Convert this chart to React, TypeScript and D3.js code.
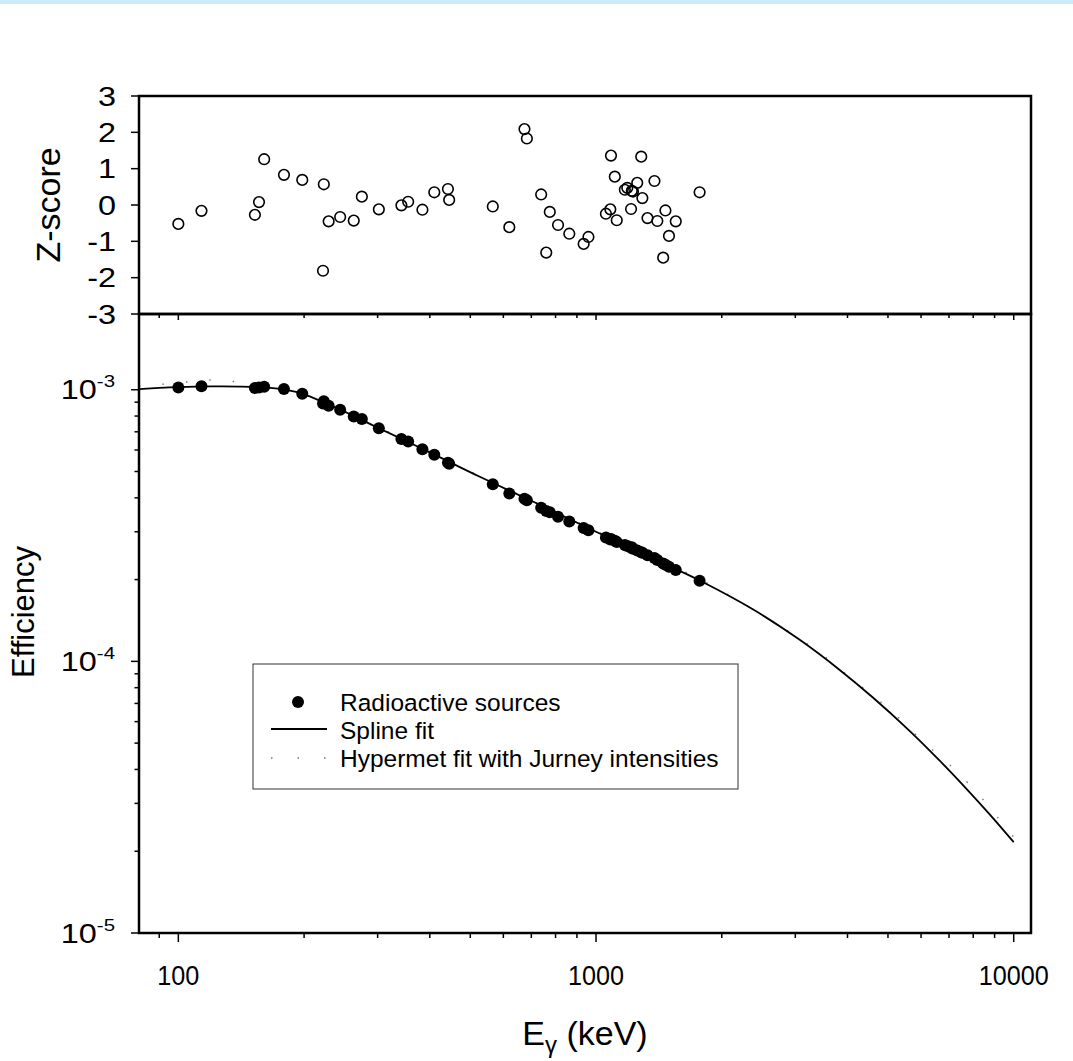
import React from "react";
import * as d3 from "d3";

// ---------- data ----------
const energies = [100, 113.6, 152.5, 156, 160.5, 179, 198, 223, 222, 229, 244, 263, 275, 302, 342, 355, 384, 410, 442, 445, 566, 620, 674, 683, 739, 760, 775, 811, 863, 934, 959, 1056, 1082, 1086, 1109, 1121, 1172, 1188, 1213, 1226, 1218, 1255, 1291, 1283, 1328, 1380, 1402, 1448, 1466, 1495, 1552, 1770];
const zScores = [-0.52, -0.16, -0.27, 0.08, 1.26, 0.83, 0.69, 0.57, -1.81, -0.45, -0.33, -0.43, 0.23, -0.12, -0.01, 0.09, -0.13, 0.35, 0.44, 0.14, -0.04, -0.61, 2.09, 1.83, 0.29, -1.31, -0.19, -0.55, -0.79, -1.07, -0.88, -0.24, -0.12, 1.36, 0.78, -0.42, 0.42, 0.47, -0.11, 0.37, 0.39, 0.61, 0.19, 1.33, -0.36, 0.66, -0.44, -1.45, -0.15, -0.85, -0.45, 0.35];
const efficiencies = [1.02e-3, 1.03e-3, 1.015e-3, 1.02e-3, 1.025e-3, 1.006e-3, 0.967e-3, 0.906e-3, 0.89e-3, 0.873e-3, 0.844e-3, 0.797e-3, 0.78e-3, 0.722e-3, 0.658e-3, 0.645e-3, 0.604e-3, 0.576e-3, 0.539e-3, 0.534e-3, 0.449e-3, 0.415e-3, 0.397e-3, 0.392e-3, 0.368e-3, 0.358e-3, 0.354e-3, 0.341e-3, 0.327e-3, 0.31e-3, 0.304e-3, 0.286e-3, 0.281e-3, 0.282e-3, 0.278e-3, 0.275e-3, 0.268e-3, 0.266e-3, 0.262e-3, 0.26e-3, 0.263e-3, 0.256e-3, 0.251e-3, 0.252e-3, 0.246e-3, 0.24e-3, 0.236e-3, 0.229e-3, 0.227e-3, 0.223e-3, 0.217e-3, 0.198e-3];

const splineE = [80.5, 90, 100, 120, 140, 160, 180, 200, 250, 300, 400, 527, 700, 1000, 1500, 1800, 2379, 3074, 3832, 4601, 5632, 6649, 7687, 8749, 10000];
const splineEff = [1.005e-3, 1.015e-3, 1.022e-3, 1.028e-3, 1.027e-3, 1.02e-3, 1.0e-3, 0.962e-3, 0.83e-3, 0.725e-3, 0.588e-3, 0.478e-3, 0.39e-3, 0.3e-3, 0.224e-3, 0.196e-3, 0.1552e-3, 0.12e-3, 0.093e-3, 0.0736e-3, 0.0555e-3, 0.0431e-3, 0.0341e-3, 0.0274e-3, 0.0216e-3];

const hyperE = [80.5, 100, 116, 134, 160, 207, 300, 500, 1000, 1800, 2690, 3420, 4206, 5109, 6066, 7243, 8520, 9883, 10000];
const hyperEff = [1.03e-3, 1.06e-3, 1.085e-3, 1.073e-3, 1.05e-3, 0.945e-3, 0.73e-3, 0.5e-3, 0.302e-3, 0.198e-3, 0.138e-3, 0.108e-3, 0.0834e-3, 0.0654e-3, 0.0507e-3, 0.0398e-3, 0.0305e-3, 0.023e-3, 0.0226e-3];

const zTicks = [-3, -2, -1, 0, 1, 2, 3];
const xMajor = [100, 1000, 10000];
const yMajor = [1e-5, 1e-4, 1e-3];
const yMajorExp = ["-5", "-4", "-3"];
const legendLabels = ["Radioactive sources", "Spline fit", "Hypermet fit with Jurney intensities"];

// ---------- layout ----------
const W = 1073, H = 1061;
const L = 139, R = 1031, T1 = 96, B1 = 314, B2 = 933;
const FONT = "'Liberation Sans', Arial, sans-serif";

export default function App() {
  const x = d3.scaleLog().domain([80.5, 11000]).range([L, R]);
  const z = d3.scaleLinear().domain([-3, 3]).range([B1, T1]);
  const y = d3.scaleLog().domain([1e-5, 1.9e-3]).range([B2, B1]);

  const xMinor: number[] = [];
  for (const dec of [10, 100, 1000]) for (let m = 1; m <= 9; m++) {
    const v = dec * m; if (v >= 80.5 && v <= 11000 && !xMajor.includes(v)) xMinor.push(v);
  }
  const yMinor: number[] = [];
  for (const dec of [1e-5, 1e-4, 1e-3]) for (let m = 2; m <= 9; m++) {
    const v = dec * m; if (v <= 1.9e-3) yMinor.push(v);
  }

  const line = d3.line<[number, number]>().x(d => x(d[0])).y(d => y(d[1])).curve(d3.curveCatmullRom.alpha(0.5));
  const splinePath = line(splineE.map((e, i) => [e, splineEff[i]]) as [number, number][]) || "";
  const hyperPath = line(hyperE.map((e, i) => [e, hyperEff[i]]) as [number, number][]) || "";

  const ySx = 1.2;
  const xSx = 0.9;

  return (
    <svg width={W} height={H} style={{ position: "absolute", left: 0, top: 0, background: "#fff" }} fontFamily={FONT}>
      <rect x={0} y={0} width={W} height={H} fill="#fff" />
      <rect x={0} y={0} width={W} height={4} fill="#cdebfd" />
      <defs>
        <clipPath id="clipB"><rect x={L} y={B1} width={R - L} height={B2 - B1} /></clipPath>
      </defs>

      {/* ---------- top panel ---------- */}
      {zTicks.map(t => (
        <g key={"zt" + t}>
          <line x1={L - 8} x2={L} y1={z(t)} y2={z(t)} stroke="#000" strokeWidth={1.5} />
          <text transform={`translate(116,${z(t) + 9.5}) scale(${ySx},1)`} textAnchor="end" fontSize={27}>{t}</text>
        </g>
      ))}
      {energies.map((e, i) => (
        <circle key={"z" + i} cx={x(e)} cy={z(zScores[i])} r={5.3} fill="none" stroke="#000" strokeWidth={1.6} />
      ))}
      <rect x={L} y={T1} width={R - L} height={B1 - T1} fill="none" stroke="#000" strokeWidth={2.5} />
      <text transform={`translate(60,${(T1 + B1) / 2}) rotate(-90)`} textAnchor="middle" fontSize={34}>Z-score</text>

      {/* ---------- bottom panel ---------- */}
      <g clipPath="url(#clipB)">
        <path d={hyperPath} fill="none" stroke="#777" strokeWidth={1.4} strokeDasharray="1.5 22" />
        <path d={splinePath} fill="none" stroke="#000" strokeWidth={1.8} />
      </g>
      {energies.map((e, i) => (
        <circle key={"e" + i} cx={x(e)} cy={y(efficiencies[i])} r={6} fill="#000" />
      ))}

      {/* y axis ticks */}
      {yMajor.map((t, i) => (
        <g key={"ym" + i}>
          <line x1={L - 8} x2={L} y1={y(t)} y2={y(t)} stroke="#000" strokeWidth={1.5} />
          <text transform={`translate(115,${y(t) + 9.5}) scale(${ySx},1)`} textAnchor="end" fontSize={27}>
            <tspan>10</tspan>
            <tspan dy={-12} fontSize={17}>{yMajorExp[i]}</tspan>
          </text>
        </g>
      ))}
      {yMinor.map((t, i) => (
        <line key={"yn" + i} x1={L - 4.5} x2={L} y1={y(t)} y2={y(t)} stroke="#000" strokeWidth={1.5} />
      ))}
      {/* x axis ticks bottom (outward) and top (inward) */}
      {xMajor.map(t => (
        <g key={"xm" + t}>
          <line x1={x(t)} x2={x(t)} y1={B2} y2={B2 + 9} stroke="#000" strokeWidth={1.5} />
          <line x1={x(t)} x2={x(t)} y1={B1} y2={B1 + 6} stroke="#000" strokeWidth={1.5} />
          <text transform={`translate(${x(t)},985) scale(${xSx},1)`} textAnchor="middle" fontSize={28}>{t}</text>
        </g>
      ))}
      {xMinor.map(t => (
        <g key={"xn" + t}>
          <line x1={x(t)} x2={x(t)} y1={B2} y2={B2 + 5} stroke="#000" strokeWidth={1.5} />
          <line x1={x(t)} x2={x(t)} y1={B1} y2={B1 + 4} stroke="#000" strokeWidth={1.5} />
        </g>
      ))}
      <rect x={L} y={B1} width={R - L} height={B2 - B1} fill="none" stroke="#000" strokeWidth={2.5} />

      <text transform={`translate(34,612) rotate(-90)`} textAnchor="middle" fontSize={31}>Efficiency</text>
      <text x={(L + R) / 2} y={1045} textAnchor="middle" fontSize={34}>
        <tspan>E</tspan>
        <tspan dy={8} fontSize={24}>γ</tspan>
        <tspan dy={-8}> (keV)</tspan>
      </text>

      {/* ---------- legend ---------- */}
      <rect x={253} y={664} width={485} height={125} fill="#fff" stroke="#333" strokeWidth={1} />
      <circle cx={298} cy={702} r={6} fill="#000" />
      <text x={340} y={711} fontSize={24.5}>{legendLabels[0]}</text>
      <line x1={271} x2={327} y1={729} y2={729} stroke="#000" strokeWidth={1.8} />
      <text x={340} y={739} fontSize={24.5}>{legendLabels[1]}</text>
      <line x1={271} x2={327} y1={758} y2={758} stroke="#777" strokeWidth={1.4} strokeDasharray="1.5 25" />
      <text x={340} y={767} fontSize={24.5}>{legendLabels[2]}</text>
    </svg>
  );
}
